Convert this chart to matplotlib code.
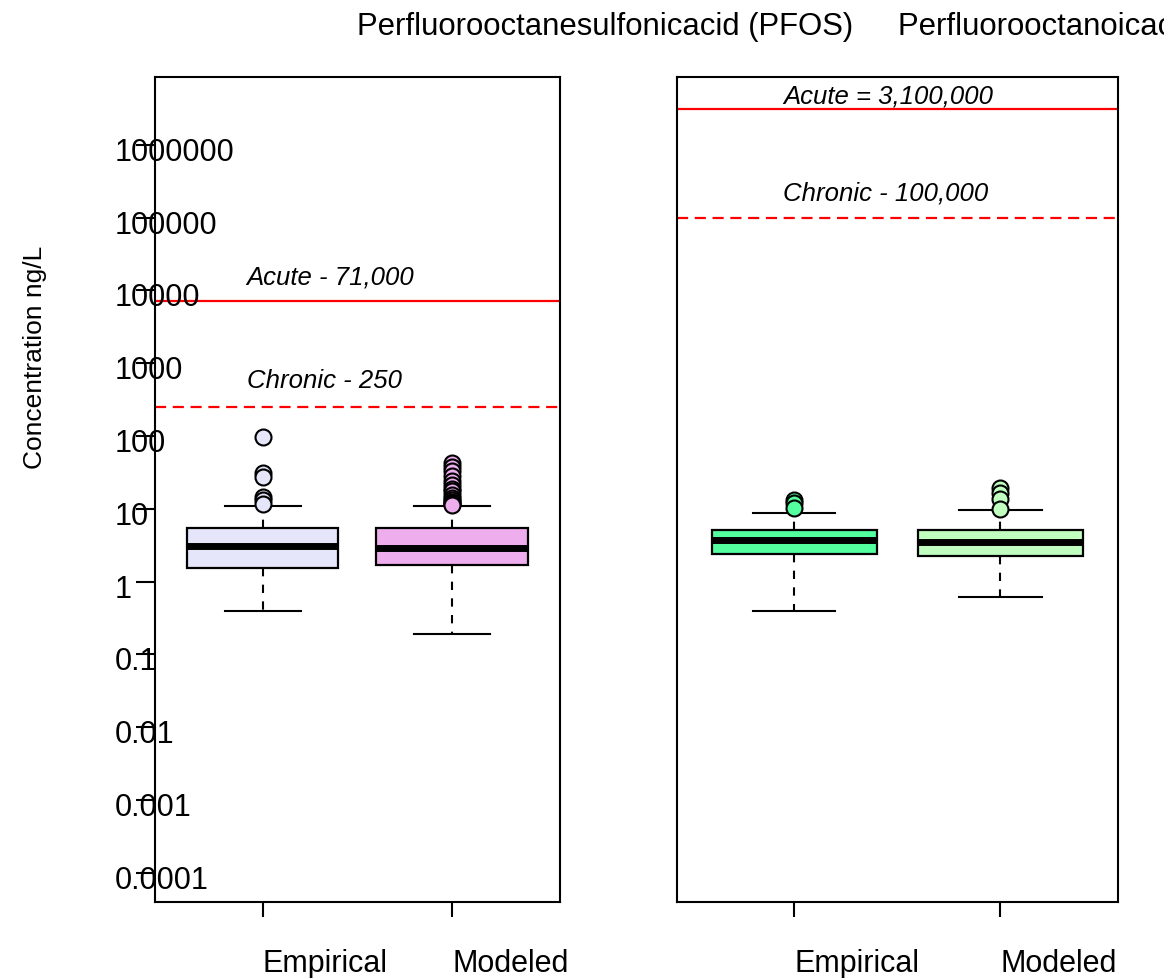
import numpy as np
import matplotlib.pyplot as plt
from matplotlib import transforms

plt.rcParams['font.family'] = ['Liberation Sans', 'DejaVu Sans']

groups = ["Empirical", "Modeled"]
titles = ["Perfluorooctanesulfonicacid (PFOS)", "Perfluorooctanoicacid (PFOA)"]
ytick_vals = [0.0001, 0.001, 0.01, 0.1, 1, 10, 100, 1000, 10000, 100000, 1000000]
ytick_labels = ["0.0001", "0.001", "0.01", "0.1", "1", "10", "100", "1000",
                "10000", "100000", "1000000"]

# box statistics (ng/L)
pfos_stats = [
    dict(whislo=0.40, q1=1.54, med=3.05, q3=5.4, whishi=10.8,
         fliers=[96, 31, 27.7, 14.7, 13.3, 11.8]),
    dict(whislo=0.188, q1=1.67, med=2.9, q3=5.4, whishi=10.8,
         fliers=[42, 38, 33, 28, 24, 21, 19, 17.3, 15.5, 14, 13.3, 12.5, 12, 11.5, 11.2]),
]
pfoa_stats = [
    dict(whislo=0.40, q1=2.42, med=3.68, q3=5.05, whishi=8.9,
         fliers=[13.3, 12, 10.2]),
    dict(whislo=0.62, q1=2.27, med=3.5, q3=5.05, whishi=9.5,
         fliers=[19.2, 16.4, 13.6, 9.8]),
]
pfos_colors = ["#E6E6FA", "#EEAEEE"]
pfoa_colors = ["#54FF9F", "#C1FFC1"]

pfos_acute, pfos_chronic = 7100, 250
pfoa_acute, pfoa_chronic = 3100000, 100000
pfos_labels = ["Acute - 71,000", "Chronic - 250"]
pfoa_labels = ["Acute = 3,100,000", "Chronic - 100,000"]

fig = plt.figure(figsize=(11.64, 9.79), dpi=100)
ax1 = fig.add_axes([0.1332, 0.0776, 0.3479, 0.8427])
ax2 = fig.add_axes([0.5816, 0.0776, 0.3789, 0.8427])


def draw_panel(ax, stats, colors, acute, chronic, labels, dys, label_x):
    positions = [1, 2]
    for s, c, p in zip(stats, colors, positions):
        ax.bxp([s], positions=[p], widths=0.8, patch_artist=True, showfliers=True,
               boxprops=dict(facecolor=c, edgecolor="black", linewidth=1.6),
               medianprops=dict(color="black", linewidth=5, solid_capstyle="butt"),
               whiskerprops=dict(color="black", linewidth=1.5, linestyle=(0, (4, 4))),
               capprops=dict(color="black", linewidth=1.5),
               flierprops=dict(marker="o", markerfacecolor=c, markeredgecolor="black",
                               markeredgewidth=1.5, markersize=11.5))
    ax.axhline(acute, color="red", linewidth=1.6)
    ax.axhline(chronic, color="red", linewidth=1.6, linestyle=(0, (5, 3)))
    for val, lab, dy in zip([acute, chronic], labels, dys):
        ax.annotate(lab, xy=(label_x, val), xytext=(0, dy), textcoords="offset points",
                    ha="left", va="center", fontsize=18.5, style="italic")
    ax.set_yscale("log")
    ax.set_ylim(10 ** -4.4, 10 ** 6.93)
    ax.set_xlim(0.432, 2.57)
    ax.minorticks_off()
    ax.set_xticks(positions, labels=[])
    ax.tick_params(axis="x", direction="out", length=11, width=1.5)
    # x labels start at the tick position
    trans = transforms.blended_transform_factory(ax.transData, ax.transAxes) + \
        transforms.ScaledTranslation(0, -0.61, fig.dpi_scale_trans)
    for p, g in zip(positions, groups):
        ax.text(p, 0, g, transform=trans, ha="left", va="center", fontsize=22)
    for sp in ax.spines.values():
        sp.set_linewidth(1.5)


draw_panel(ax1, pfos_stats, pfos_colors, pfos_acute, pfos_chronic, pfos_labels,
           [18, 19.5], 0.916)
draw_panel(ax2, pfoa_stats, pfoa_colors, pfoa_acute, pfoa_chronic, pfoa_labels,
           [10, 18], 0.947)

# left panel y axis: labels overlap the axis line as in the original
ax1.set_yticks(ytick_vals, labels=[])
ax1.tick_params(axis="y", direction="out", length=14, width=1.5)
ytrans = transforms.blended_transform_factory(fig.transFigure, ax1.transData) + \
    transforms.ScaledTranslation(0, -0.07, fig.dpi_scale_trans)
for v, lab in zip(ytick_vals, ytick_labels):
    ax1.text(115 / 1164, v, lab, transform=ytrans, ha="left", va="center", fontsize=22,
             clip_on=False)
ax2.set_yticks([])

fig.text(35 / 1164, 1 - 357 / 979, "Concentration ng/L", rotation=90,
         ha="center", va="center", fontsize=19)
fig.text(357 / 1164, 1 - 27 / 979, titles[0], ha="left", va="center", fontsize=22.4)
fig.text(898 / 1164, 1 - 27 / 979, titles[1], ha="left", va="center", fontsize=22.4)

fig.savefig("out.png", dpi=100)
